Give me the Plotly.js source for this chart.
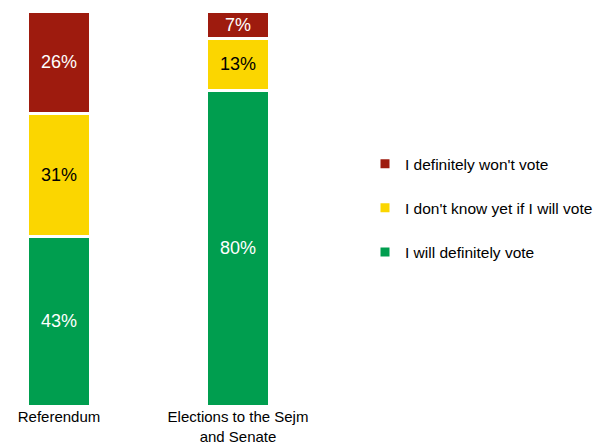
<!DOCTYPE html>
<html>
<head>
<meta charset="utf-8">
<script src="https://cdn.plot.ly/plotly-3.0.1.min.js"></script>
<style>html,body{margin:0;padding:0;background:#fff;}#chart{width:598px;height:445px;}</style>
</head>
<body>
<div id="chart"></div>
<script>
const categories = ["Referendum", "Elections to the Sejm<br>and Senate"];
const seriesNames = ["I will definitely vote", "I don't know yet if I will vote", "I definitely won't vote"];
const willVote = [43, 80];
const dontKnow = [31, 13];
const wontVote = [26, 7];
const seriesColors = ["#009E4F", "#FBD600", "#9E1B0E"];
const textColors = ["#FFFFFF", "#000000", "#FFFFFF"];
const legendRanks = [3, 2, 1];

const values = [willVote, dontKnow, wontVote];
const xIdx = categories.map((c, i) => i);

const traces = values.map((v, k) => ({
  type: "bar",
  name: seriesNames[k],
  legendgroup: "g" + k,
  legendrank: legendRanks[k],
  x: xIdx,
  y: v,
  width: 0.352,
  marker: {color: seriesColors[k], line: {color: "#FFFFFF", width: 3}},
  text: v.map(n => n + "%"),
  texttemplate: "%{text}",
  textposition: "inside",
  insidetextanchor: "middle",
  constraintext: "none",
  textfont: {color: textColors[k], size: 18, family: "Liberation Sans, Arial, sans-serif"},
  hoverinfo: "skip"
}));

// pixel mapping: plot area from x=10 to x=370 ; centers at 59 and 238
const pxPerUnit = 179;
const plotLeft = 10, plotRight = 370;
const xr = [(plotLeft - 59) / pxPerUnit, (plotRight - 59) / pxPerUnit];

const layout = {
  width: 598, height: 445,
  margin: {l: plotLeft, r: 598 - plotRight, t: 10.5, b: 445 - 406.5, pad: 0, autoexpand: false},
  paper_bgcolor: "#FFFFFF", plot_bgcolor: "#FFFFFF",
  barmode: "stack",
  font: {family: "Liberation Sans, Arial, sans-serif", size: 15, color: "#000"},
  xaxis: {
    range: xr, tickvals: xIdx, ticktext: categories,
    showgrid: false, zeroline: false, showline: false, ticks: "",
    ticklabelstandoff: 0, automargin: false,
    tickfont: {size: 15, color: "#000"}, fixedrange: true
  },
  yaxis: {range: [0, 100], visible: false, fixedrange: true},
  showlegend: true,
  legend: {
    traceorder: "grouped",
    tracegroupgap: 21,
    x: 365 / 598, xref: "container", xanchor: "left",
    y: 0.501, yanchor: "middle",
    font: {size: 15.5, color: "#000"},
    itemwidth: 30,
    bgcolor: "rgba(0,0,0,0)"
  }
};

Plotly.newPlot("chart", traces, layout, {displayModeBar: false, staticPlot: true});
</script>
</body>
</html>
